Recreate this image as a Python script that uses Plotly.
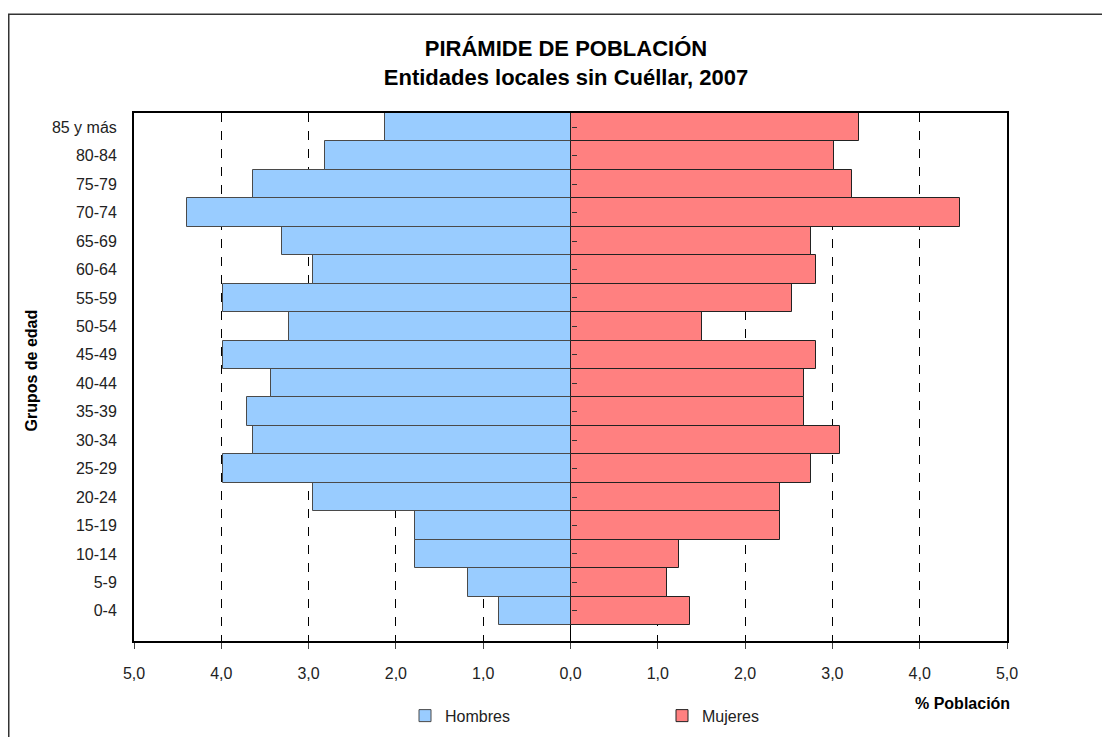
import plotly.graph_objects as go

grupos = ["0-4", "5-9", "10-14", "15-19", "20-24", "25-29", "30-34", "35-39", "40-44",
          "45-49", "50-54", "55-59", "60-64", "65-69", "70-74", "75-79", "80-84", "85 y más"]
hombres = [0.82, 1.17, 1.78, 1.78, 2.95, 3.98, 3.64, 3.71, 3.43,
           3.98, 3.23, 3.98, 2.95, 3.30, 4.39, 3.64, 2.81, 2.13]
mujeres = [1.37, 1.10, 1.24, 2.40, 2.40, 2.75, 3.09, 2.68, 2.68,
           2.81, 1.51, 2.54, 2.81, 2.75, 4.46, 3.23, 3.02, 3.30]
tick_vals = [-5, -4, -3, -2, -1, 0, 1, 2, 3, 4, 5]
tick_text = ["5,0", "4,0", "3,0", "2,0", "1,0", "0,0", "1,0", "2,0", "3,0", "4,0", "5,0"]

FONT = "Liberation Sans, Arial, sans-serif"

# plot area in figure pixels
L, R, T, B = 126, 999, 105, 635
W, H = R - L, B - T


def px(x):
    return (x - L) / W


def py(y):
    return (B - y) / H


fig = go.Figure()
fig.add_trace(go.Bar(
    y=grupos, x=[-v for v in hombres], orientation="h", name="Hombres",
    marker=dict(color="#99CCFF", line=dict(color="#4a4a4a", width=1)),
    customdata=hombres, hovertemplate="%{y}: %{customdata:.2f}%<extra>Hombres</extra>",
))
fig.add_trace(go.Bar(
    y=grupos, x=mujeres, orientation="h", name="Mujeres",
    marker=dict(color="#FF8080", line=dict(color="#222222", width=1)),
    hovertemplate="%{y}: %{x:.2f}%<extra>Mujeres</extra>",
))
fig.add_trace(go.Scatter(x=[0], y=[grupos[0]], yaxis="y2", mode="markers",
                         marker=dict(opacity=0), showlegend=False, hoverinfo="skip"))

fig.update_layout(
    width=1110, height=737,
    margin=dict(l=L, r=1110 - R, t=T, b=737 - B),
    paper_bgcolor="white", plot_bgcolor="white",
    barmode="overlay", bargap=0,
    title=dict(
        text="PIRÁMIDE DE POBLACIÓN<br>Entidades locales sin Cuéllar, 2007",
        x=558 / 1110, xanchor="center", y=1 - 48 / 737, yanchor="middle",
        font=dict(family=FONT, size=22, color="black", weight="bold"),
    ),
    xaxis=dict(
        range=[-5, 5], tickvals=tick_vals, ticktext=tick_text,
        showgrid=True, gridcolor="black", griddash="dash", gridwidth=1,
        zeroline=True, zerolinecolor="black", zerolinewidth=1,
        showline=True, linecolor="black", linewidth=2, mirror=True,
        ticks="outside", ticklen=6, tickcolor="#444444",
        tickfont=dict(family=FONT, size=16, color="#222222"),
        ticklabelstandoff=11,
        fixedrange=True,
    ),
    yaxis=dict(
        type="category", categoryorder="array", categoryarray=grupos,
        showgrid=False, showline=True, linecolor="black", linewidth=2, mirror=True,
        ticks="", tickfont=dict(family=FONT, size=16, color="#222222"),
        ticklabelstandoff=12,
    ),
    yaxis2=dict(
        overlaying="y", matches="y", anchor="free", position=0.5, side="right",
        type="category", categoryorder="array", categoryarray=grupos,
        showticklabels=False, ticks="outside", ticklen=5, tickcolor="#333333",
        showgrid=False, showline=False, layer="above traces",
    ),
    legend=dict(
        orientation="h", x=px(417 - 20), xanchor="left",
        y=py(710), yanchor="middle",
        entrywidth=212, entrywidthmode="pixels",
        font=dict(family=FONT, size=16, color="#222222"),
        traceorder="normal",
    ),
    showlegend=True,
    shapes=[dict(
        type="rect", xref="paper", yref="paper",
        x0=px(0.75), x1=1.3, y0=-0.4, y1=py(6),
        line=dict(color="#333333", width=1.5), fillcolor="rgba(0,0,0,0)", layer="below",
    )],
    annotations=[
        dict(text="<b>% Población</b>", xref="paper", yref="paper",
             x=px(954), y=py(698), xanchor="center", yanchor="middle",
             showarrow=False, font=dict(family=FONT, size=16, color="black")),
        dict(text="<b>Grupos de edad</b>", xref="paper", yref="paper",
             x=px(23.5), y=py(364), xanchor="center", yanchor="middle",
             textangle=-90, showarrow=False,
             font=dict(family=FONT, size=16, color="black")),
    ],
)

fig.write_html("out.html")
